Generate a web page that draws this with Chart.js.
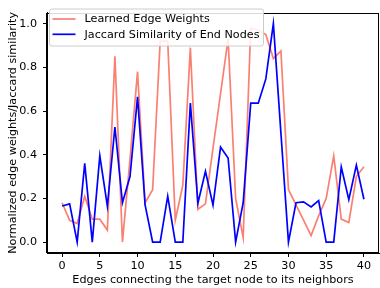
<!DOCTYPE html>
<html>
<head>
<meta charset="utf-8">
<script src="https://cdn.jsdelivr.net/npm/chart.js@4/dist/chart.umd.min.js"></script>
<style>
  body { margin: 0; background: #fff; }
  #wrap { width: 380px; height: 288px; }
</style>
</head>
<body>
<div id="wrap"><canvas id="myChart"></canvas></div>
<script>
// Edge index along the x axis
const edgeIndex = [];
for (let i = 0; i <= 40; i++) edgeIndex.push(i);

// Values
const learnedWeights = [
  0.18, 0.10, 0.085, 0.21, 0.105, 0.105, 0.055, 0.85, 0.0, 0.38,
  0.78, 0.18, 0.24, 0.92, 0.92, 0.10, 0.26, 0.89, 0.15, 0.175,
  0.43, 0.68, 0.93, 0.20, 0.02, 0.98, 0.97, 0.95, 0.84, 0.875,
  0.24, 0.17, 0.10, 0.03, 0.12, 0.20, 0.395, 0.105, 0.09, 0.30,
  0.345
];
const jaccardSim = [
  0.165, 0.175, 0.0, 0.36, 0.0, 0.395, 0.165, 0.527, 0.18, 0.30,
  0.665, 0.17, 0.0, 0.0, 0.21, 0.0, 0.0, 0.636, 0.178, 0.324,
  0.169, 0.435, 0.385, 0.0, 0.18, 0.636, 0.636, 0.747, 1.0, 0.5,
  0.0, 0.18, 0.184, 0.161, 0.19, 0.0, 0.0, 0.344, 0.194, 0.352,
  0.196
];

// Tick labels
const xTicks = [0, 5, 10, 15, 20, 25, 30, 35, 40];
const yTicks = [0, 0.2, 0.4, 0.6, 0.8, 1.0];

const font = { family: 'DejaVu Sans', size: 11.2 };

// Box round the plot (top and right spines too)
const frame = {
  id: 'frame',
  afterDraw(chart) {
    const { ctx, chartArea: a } = chart;
    ctx.save();
    ctx.strokeStyle = '#000';
    ctx.lineWidth = 1;
    ctx.strokeRect(Math.round(a.left) - 0.5, Math.round(a.top) + 0.5,
                   Math.round(a.right - a.left), Math.round(a.bottom - a.top) - 1);
    ctx.restore();
  }
};

// Legend inside the plot, upper left
const innerLegend = {
  id: 'innerLegend',
  afterDraw(chart) {
    const { ctx, chartArea: a } = chart;
    const sets = chart.data.datasets;
    ctx.save();
    ctx.font = '11.2px "DejaVu Sans"';
    let w = 0;
    sets.forEach(ds => { w = Math.max(w, ctx.measureText(ds.label).width); });
    const x = a.left + 2.5, y = 9, rowH = 15.3;
    const bw = 35 + w + 4, bh = 37;
    ctx.beginPath();
    ctx.roundRect(x, y, bw, bh, 2.5);
    ctx.fillStyle = 'rgba(255,255,255,0.85)';
    ctx.fill();
    ctx.strokeStyle = '#cccccc';
    ctx.lineWidth = 1;
    ctx.stroke();
    sets.forEach((ds, i) => {
      const cy = y + 10 + i * rowH;
      ctx.beginPath();
      ctx.moveTo(x + 3, cy);
      ctx.lineTo(x + 26, cy);
      ctx.strokeStyle = ds.borderColor;
      ctx.lineWidth = 1.7;
      ctx.stroke();
      ctx.fillStyle = '#000';
      ctx.textBaseline = 'middle';
      ctx.fillText(ds.label, x + 35, cy + 0.5);
    });
    ctx.restore();
  }
};

const ctx = document.getElementById('myChart').getContext('2d');
const chart = new Chart(ctx, {
  type: 'line',
  data: {
    labels: edgeIndex,
    datasets: [
      {
        label: 'Learned Edge Weights',
        data: learnedWeights,
        borderColor: '#fa8072',
        borderWidth: 1.7,
        pointRadius: 0,
        tension: 0,
        fill: false,
        order: 1
      },
      {
        label: 'Jaccard Similarity of End Nodes',
        data: jaccardSim,
        borderColor: '#0000ff',
        borderWidth: 1.7,
        pointRadius: 0,
        tension: 0,
        fill: false,
        order: 0
      }
    ]
  },
  options: {
    responsive: true,
    maintainAspectRatio: false,
    animation: false,
    layout: { padding: { top: 6, right: 1, left: 0, bottom: 0 } },
    plugins: { legend: { display: false }, tooltip: { enabled: false } },
    scales: {
      x: {
        type: 'linear',
        min: -2,
        max: 42,
        afterBuildTicks: s => { s.ticks = xTicks.map(v => ({ value: v })); },
        afterFit: s => { s.height = 35; },
        ticks: { font, color: '#000', padding: 2, maxRotation: 0, callback: v => String(v) },
        grid: { drawOnChartArea: false, drawTicks: true, tickLength: 4, color: '#000' },
        border: { display: true, color: '#000' },
        title: {
          display: true,
          text: 'Edges connecting the target node to its neighbors',
          font, color: '#000',
          padding: { top: 0, bottom: 1.3 }
        }
      },
      y: {
        type: 'linear',
        min: -0.05,
        max: 1.05,
        afterBuildTicks: s => { s.ticks = yTicks.map(v => ({ value: v })); },
        afterFit: s => { s.width = 47; },
        ticks: { font, color: '#000', padding: 6, callback: v => v.toFixed(1) },
        grid: { drawOnChartArea: false, drawTicks: true, tickLength: 4, color: '#000' },
        border: { display: true, color: '#000' },
        title: {
          display: true,
          text: 'Normalized edge weights/Jaccard similarity',
          font, color: '#000',
          padding: { top: 6.8, bottom: 0 }
        }
      }
    }
  },
  plugins: [frame, innerLegend]
});
</script>
</body>
</html>
